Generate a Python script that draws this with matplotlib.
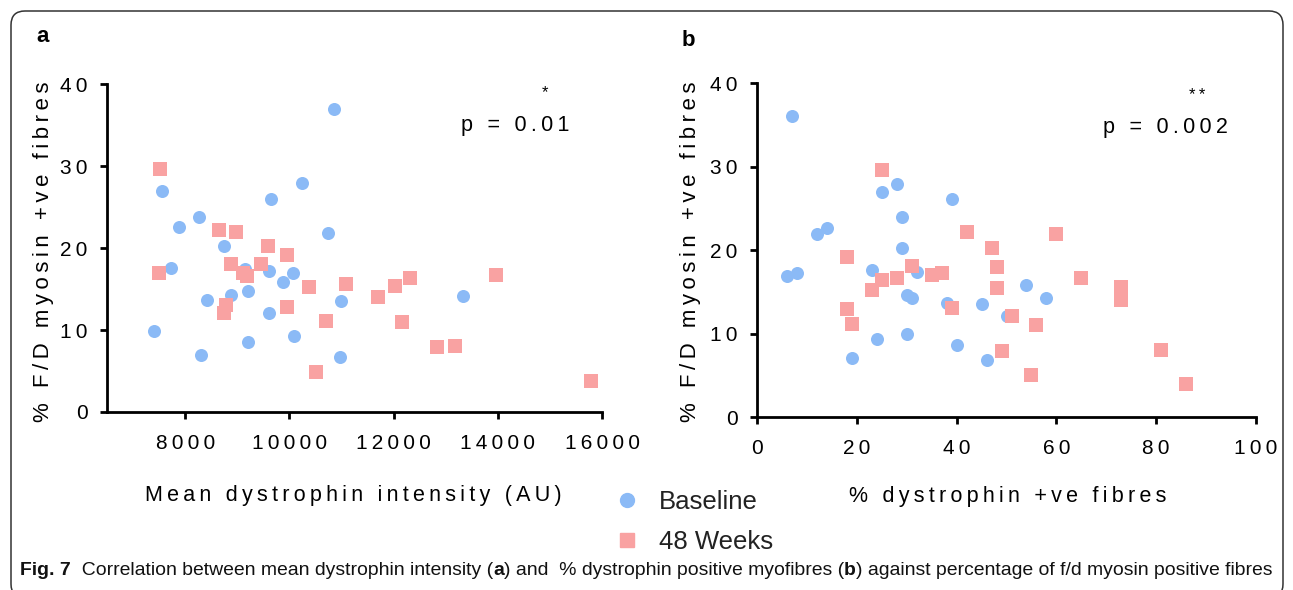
import matplotlib.pyplot as plt
from matplotlib.patches import FancyBboxPatch
from matplotlib.lines import Line2D
from matplotlib.transforms import IdentityTransform

plt.rcParams['font.family'] = ['Liberation Sans', 'DejaVu Sans']

# panel a: mean dystrophin intensity vs % F/D myosin +ve fibres
a_base_x = [10865, 7563, 10237, 9641, 8269, 7878, 10731, 8737, 7724, 9141, 9615, 10071,
            9878, 8872, 9212, 8423, 10987, 9615, 7410, 10096, 9212, 8295, 10974, 13333]
a_base_y = [36.9, 26.9, 27.9, 26.0, 23.8, 22.6, 21.8, 20.3, 17.6, 17.5, 17.2, 17.0,
            15.8, 14.3, 14.7, 13.6, 13.5, 12.1, 9.9, 9.3, 8.5, 7.0, 6.7, 14.1]
a_wk_x = [7525, 7500, 8641, 8981, 9583, 9955, 8878, 9462, 9103, 9179, 10372, 11083, 11705,
          8788, 8744, 9949, 10705, 10519, 12025, 12321, 12160, 12827, 13179, 13967, 15788]
a_wk_y = [29.6, 17.0, 22.2, 21.9, 20.2, 19.2, 18.1, 18.1, 17.0, 16.6, 15.2, 15.6, 14.0,
          13.0, 12.1, 12.8, 11.1, 4.9, 15.4, 16.4, 11.0, 7.9, 8.0, 16.7, 3.8]

# panel b: % dystrophin +ve fibres vs % F/D myosin +ve fibres
b_base_x = [7, 25, 28, 39, 29, 12, 14, 29, 6, 8, 23, 32,
            30, 31, 38, 45, 24, 30, 40, 19, 46, 54, 58, 50]
b_base_y = [36.0, 26.9, 27.9, 26.1, 23.9, 21.9, 22.6, 20.3, 16.9, 17.3, 17.6, 17.4,
            14.6, 14.3, 13.6, 13.5, 9.3, 9.9, 8.6, 7.1, 6.8, 15.8, 14.2, 12.1]
b_wk_x = [25, 18, 42, 47, 48, 48, 31, 35, 37, 28, 25, 23, 39,
          18, 19, 60, 65, 73, 73, 51, 56, 49, 55, 81, 86]
b_wk_y = [29.6, 19.2, 22.2, 20.2, 18.0, 15.4, 18.1, 17.0, 17.2, 16.6, 16.4, 15.2, 13.0,
          12.9, 11.1, 21.9, 16.7, 15.6, 14.0, 12.1, 11.0, 7.9, 5.0, 8.0, 3.9]

a_xticks = [8000, 10000, 12000, 14000, 16000]
b_xticks = [0, 20, 40, 60, 80, 100]
yticks = [0, 10, 20, 30, 40]
series = ['Baseline', '48 Weeks']

blue = '#8bbaf6'
pink = '#f9a2a2'


def sp(s):
    # prism-style letter spacing
    return '\u2009'.join(s)


fig = plt.figure(figsize=(12.93, 5.90), dpi=100)

# rounded frame of the figure box
fig.add_artist(FancyBboxPatch((11, -8), 1272, 587, boxstyle='round,pad=0,rounding_size=14',
                              transform=IdentityTransform(), fill=False, lw=1.1, ec='#333333'))

ax1 = fig.add_axes([0.0828, 0.3017, 0.3828, 0.5559])
ax2 = fig.add_axes([0.5855, 0.2932, 0.3859, 0.5661])

for ax, bx, by, wx, wy in [(ax1, a_base_x, a_base_y, a_wk_x, a_wk_y),
                           (ax2, b_base_x, b_base_y, b_wk_x, b_wk_y)]:
    ax.scatter(bx, by, s=88, marker='o', color=blue, linewidths=0, zorder=3)
    ax.scatter(wx, wy, s=88, marker='s', color=pink, linewidths=0, zorder=4)
    ax.spines['top'].set_visible(False)
    ax.spines['right'].set_visible(False)
    ax.spines['left'].set_linewidth(2)
    ax.spines['bottom'].set_linewidth(2)
    ax.tick_params(direction='out', length=5, width=2, labelsize=15, color='black')
    ax.tick_params(axis='x', pad=11)
    ax.tick_params(axis='y', pad=9)
    ax.set_ylim(0, 40)
    ax.set_yticks(yticks)
    ax.set_yticklabels([sp(str(v)) for v in yticks])
    ax.set_ylabel(sp('% F/D myosin +ve fibres'), fontsize=16)

ax1.set_xlim(6500, 16000)
ax1.set_xticks(a_xticks)
ax1.set_xticklabels([sp(str(v)) for v in a_xticks])
ax1.set_xlabel(sp('Mean dystrophin intensity (AU)'), fontsize=15.5)
ax1.yaxis.set_label_coords(-0.108, 0.488)
ax1.xaxis.set_label_coords(0.497, -0.222)

ax2.set_xlim(0, 100)
ax2.set_xticks(b_xticks)
ax2.set_xticklabels([sp(str(v)) for v in b_xticks])
ax2.set_xlabel(sp('% dystrophin +ve fibres'), fontsize=15.5)
ax2.yaxis.set_label_coords(-0.113, 0.494)
ax2.xaxis.set_label_coords(0.503, -0.207)

W, H = 1293, 590
fig.text(43 / W, 1 - 37 / H, 'a', fontsize=16, weight='bold', ha='center', va='center')
fig.text(688 / W, 1 - 40 / H, 'b', fontsize=16, weight='bold', ha='center', va='center')

fig.text(515 / W, 1 - 125 / H, sp('p = 0.01'), fontsize=15.5, ha='center', va='center')
fig.text(545 / W, 1 - 93 / H, '*', fontsize=12, ha='center', va='center')
fig.text(1165 / W, 1 - 127 / H, sp('p = 0.002'), fontsize=15.5, ha='center', va='center')
fig.text(1197 / W, 1 - 96 / H, sp('**'), fontsize=12, ha='center', va='center')

handles = [Line2D([], [], ls='none', marker='o', ms=10, color=blue),
           Line2D([], [], ls='none', marker='s', ms=10, color=pink)]
fig.legend(handles, series, loc='center left', bbox_to_anchor=(604 / W, 1 - 522 / H),
           frameon=False, fontsize=18.5, labelspacing=0.6, handlelength=1.0,
           handletextpad=0.75, borderaxespad=0, labelcolor='#222222')

# caption with bold pieces
parts = [('Fig. 7', 'bold'), ('  Correlation between mean dystrophin intensity (', 'normal'),
         ('a', 'bold'), (') and  % dystrophin positive myofibres (', 'normal'), ('b', 'bold'),
         (') against percentage of f/d myosin positive fibres', 'normal')]
prev = fig.text(20 / W, 1 - 579 / H, parts[0][0], fontsize=13.95, weight=parts[0][1],
                va='bottom', ha='left', color='#111111')
for txt, wt in parts[1:]:
    prev = fig.add_artist(plt.Annotation(
        txt, xy=(1, 0), xycoords=prev, va='bottom', ha='left', fontsize=13.95,
        weight=wt, color='#111111', annotation_clip=False))

fig.savefig('out.png', dpi=100)
